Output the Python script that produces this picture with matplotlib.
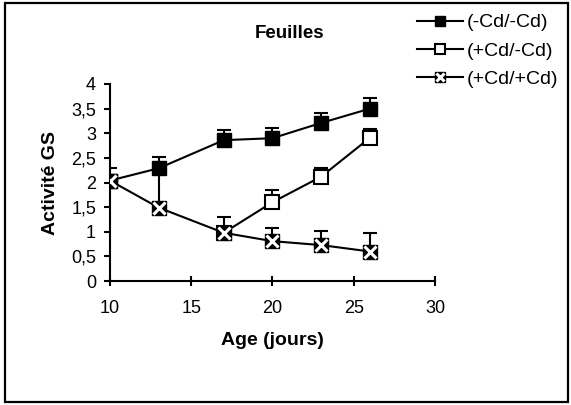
import matplotlib
matplotlib.use("Agg")
import matplotlib.pyplot as plt
from matplotlib.patches import Rectangle
from matplotlib.legend_handler import HandlerTuple

plt.rcParams['font.family'] = ['Liberation Sans', 'DejaVu Sans']

# data
age_a = [10, 13, 17, 20, 23, 26]
gs_a = [2.04, 2.29, 2.86, 2.90, 3.21, 3.50]
err_a_up = [0.25, 0.22, 0.21, 0.21, 0.21, 0.22]
err_a_dn = [0, 0.80, 0, 0, 0, 0]

age_b = [17, 20, 23, 26]
gs_b = [0.98, 1.60, 2.12, 2.91]
err_b_up = [0, 0.25, 0.17, 0.17]

age_c = [10, 13, 17, 20, 23, 26]
gs_c = [2.04, 1.49, 0.98, 0.81, 0.73, 0.60]
err_c_up = [0, 0, 0.33, 0.27, 0.29, 0.37]

labels = ['(-Cd/-Cd)', '(+Cd/-Cd)', '(+Cd/+Cd)']
xticks = [10, 15, 20, 25, 30]
yticks = [0, 0.5, 1, 1.5, 2, 2.5, 3, 3.5, 4]
ytick_labels = ['0', '0,5', '1', '1,5', '2', '2,5', '3', '3,5', '4']

fig = plt.figure(figsize=(5.71, 4.05), dpi=100)
ax = fig.add_axes([0.1926, 0.306, 0.5692, 0.4866])

ms = 9.5
lw = 1.5
eb = dict(ecolor='black', elinewidth=1.5, capsize=4.7, capthick=1.5, fmt='none', zorder=2)

ax.errorbar(age_a, gs_a, yerr=[err_a_dn, err_a_up], **eb)
ax.errorbar(age_b, gs_b, yerr=[[0] * len(age_b), err_b_up], **eb)
ax.errorbar(age_c, gs_c, yerr=[[0] * len(age_c), err_c_up], **eb)

la, = ax.plot(age_a, gs_a, color='black', lw=lw, marker='s', ms=ms,
              mfc='black', mec='black', zorder=3)
lb, = ax.plot(age_b, gs_b, color='black', lw=lw, marker='s', ms=ms,
              mfc='white', mec='black', mew=1.5, zorder=4)
lc, = ax.plot(age_c, gs_c, color='black', lw=lw, marker='s', ms=ms,
              mfc='black', mec='black', zorder=5)
lc2, = ax.plot(age_c, gs_c, ls='none', marker='x', ms=ms - 1.5,
               mec='white', mew=2.2, zorder=6)

ax.set_xlim(10, 30)
ax.set_ylim(0, 4)
ax.set_xticks(xticks)
ax.set_yticks(yticks)
ax.set_yticklabels(ytick_labels)
for s in ['top', 'right']:
    ax.spines[s].set_visible(False)
for s in ['left', 'bottom']:
    ax.spines[s].set_linewidth(1.5)
ax.tick_params(axis='y', direction='out', length=4, width=1.5, labelsize=13, pad=6)
ax.tick_params(axis='x', direction='inout', length=7, width=1.5, labelsize=13, pad=10)

ax.set_xlabel('Age (jours)', fontsize=14, fontweight='bold', labelpad=11)
ax.set_ylabel('Activité GS', fontsize=14, fontweight='bold', labelpad=9)
fig.text(290 / 571, 1 - 33 / 405, 'Feuilles', ha='center', va='center',
         fontsize=13.5, fontweight='bold')

fig.legend([la, lb, (lc, lc2)], labels, loc='upper left',
           bbox_to_anchor=(409 / 571, 1 - 6 / 405), frameon=False,
           fontsize=14, handlelength=2.4, handletextpad=0.15,
           labelspacing=0.55, borderaxespad=0, borderpad=0.4, markerscale=0.8,
           handler_map={tuple: HandlerTuple(ndivide=1, pad=0)})

fig.patches.append(Rectangle((5 / 571, 3 / 405), 563 / 571, 399 / 405,
                             transform=fig.transFigure, fill=False,
                             edgecolor='black', lw=1.6))

fig.savefig('out.png', dpi=100)
